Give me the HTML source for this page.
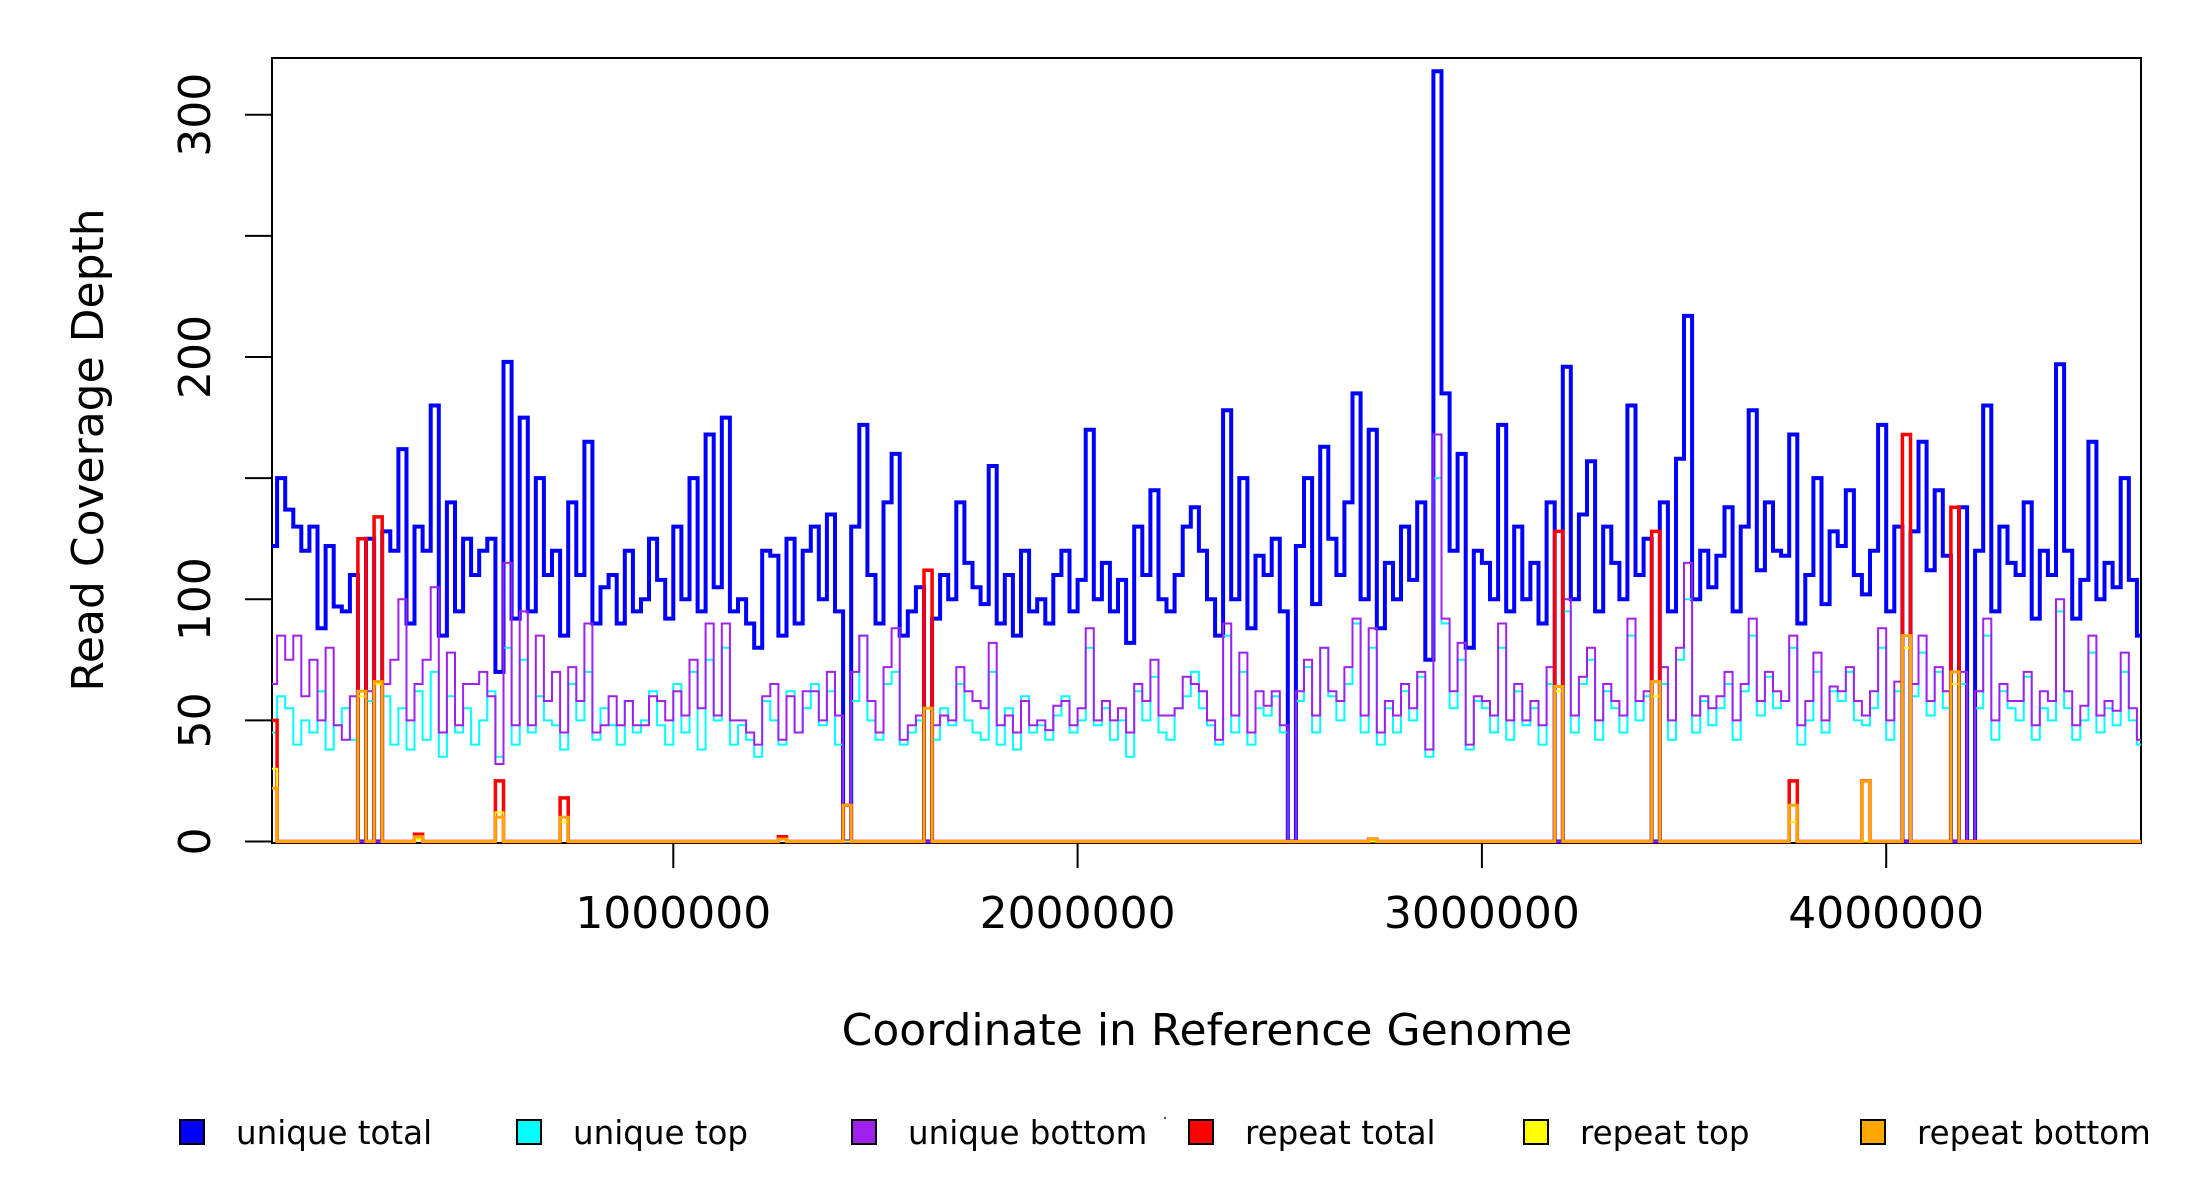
<!DOCTYPE html>
<html>
<head>
<meta charset="utf-8">
<style>
html,body{margin:0;padding:0;background:#fff;}
svg{display:block;font-family:"DejaVu Sans","Liberation Sans",sans-serif;}
</style>
</head>
<body>
<svg id="chart" width="2200" height="1200" viewBox="0 0 2200 1200" xmlns="http://www.w3.org/2000/svg">
  <rect x="0" y="0" width="2200" height="1200" fill="#fff"/>
  <defs><clipPath id="plotclip"><rect x="272" y="57" width="1869" height="788"/></clipPath></defs>
  <rect x="272" y="58" width="1869" height="785" fill="none" stroke="#000" stroke-width="2"/>
  <g id="series" clip-path="url(#plotclip)"></g>
  <g id="yaxis"></g>
  <g id="xaxis"></g>
  <text x="1207" y="1045" font-size="44" text-anchor="middle">Coordinate in Reference Genome</text>
  <text transform="translate(103,450) rotate(-90)" font-size="44" text-anchor="middle">Read Coverage Depth</text>
  <g id="legend"></g>
  <circle cx="1165" cy="1118" r="1.2" fill="#555"/>
</svg>
<script>
const binSize = 20000;
const uniqueTotal = [122,150,137,130,120,130,88,122,97,95,110,0,125,0,128,120,162,90,130,120,
180,85,140,95,125,110,120,125,70,198,92,175,95,150,110,120,85,140,110,165,
90,105,110,90,120,95,100,125,108,92,130,100,150,95,168,105,175,95,100,90,
80,120,118,85,125,90,120,130,100,135,95,0,130,172,110,90,140,160,85,95,
105,0,92,110,100,140,115,105,98,155,90,110,85,120,95,100,90,110,120,95,
108,170,100,115,95,108,82,130,110,145,100,95,110,130,138,120,100,85,178,100,
150,88,118,110,125,95,0,122,150,98,163,125,110,140,185,100,170,88,115,100,
130,108,140,75,318,185,120,160,80,120,115,100,172,95,130,100,115,90,140,0,
196,100,135,157,95,130,115,100,180,110,125,0,140,95,158,217,100,120,105,118,
138,95,130,178,112,140,120,118,168,90,110,150,98,128,122,145,110,102,120,172,
95,130,0,128,165,112,145,118,0,138,0,120,180,95,130,115,110,140,92,120,
110,197,120,92,108,165,100,115,105,150,108,85];
const uniqueTop = [45,60,55,40,50,45,62,38,48,55,42,0,58,0,60,40,55,38,62,42,
70,35,60,45,55,40,50,62,35,80,40,75,45,60,50,48,38,65,50,70,
42,55,48,40,58,45,50,62,48,40,65,45,70,38,75,50,80,40,48,42,
35,58,50,40,62,45,55,65,48,62,40,0,58,85,50,42,65,70,40,45,
50,0,42,55,48,65,50,45,42,70,40,55,38,60,45,48,42,52,60,45,
50,80,48,55,42,50,35,62,50,68,45,42,55,60,70,55,48,40,85,45,
70,40,55,52,60,45,0,58,72,45,80,60,50,65,90,45,80,40,55,45,
62,50,68,35,150,90,55,75,38,58,55,45,80,42,62,48,55,40,65,0,
95,45,65,75,42,62,55,45,85,50,60,0,65,42,75,100,45,58,48,55,
65,42,62,85,52,68,55,58,80,40,50,70,45,62,58,70,50,48,55,80,
42,62,0,60,78,52,70,55,0,65,0,55,85,42,62,55,50,68,42,55,
50,95,55,42,50,78,45,55,48,70,50,40];
const uniqueBottom = [65,85,75,85,60,75,50,80,48,42,60,0,62,0,65,75,100,50,65,75,
105,45,78,48,65,65,70,60,32,115,48,95,48,85,58,70,45,72,58,90,
45,48,60,48,58,48,48,60,58,50,62,52,75,55,90,52,90,50,50,45,
40,60,65,42,60,45,62,62,50,70,52,0,70,85,58,45,72,88,42,48,
52,0,48,52,50,72,62,58,55,82,48,52,45,58,48,50,46,56,58,48,
55,88,50,58,50,55,45,65,58,75,52,52,55,68,65,62,50,42,90,52,
78,45,62,56,62,48,0,62,75,52,80,62,58,72,92,52,88,45,58,52,
65,55,70,38,168,92,62,82,40,60,58,52,90,50,65,50,58,48,72,0,
100,52,68,80,50,65,58,52,92,58,62,0,72,50,80,115,52,60,55,60,
70,50,65,92,58,70,62,58,85,48,58,78,50,64,62,72,58,52,62,88,
50,66,0,65,85,58,72,62,0,70,0,62,92,50,65,58,58,70,48,62,
58,100,62,48,56,85,52,58,54,78,55,42];
const repeatBins   = [0, 11, 13, 18, 28, 36, 63, 71, 81, 136, 159, 171, 188, 197, 202, 208];
const repeatTotal  = [50,125,134, 3, 25, 18,  2, 15,112,  1, 128, 128, 25, 25, 168, 138];
const repeatTop    = [30, 60, 65, 1, 12,  8,  1,  0, 55,  0,  62,  60,  8,  0,  80,  65];
const repeatBottom = [22, 62, 66, 2, 10, 10,  1, 15, 55,  1,  64,  66, 15, 25,  85,  70];
const yTicks = [0,50,100,150,200,250,300];
const yTickLabels = ["0","50","100","","200","","300"];
const xTicks = [1000000,2000000,3000000,4000000];
const xTickLabels = ["1000000","2000000","3000000","4000000"];
const legendLabels = ["unique total","unique top","unique bottom","repeat total","repeat top","repeat bottom"];
const legendColors = ["#0000ff","#00ffff","#a020f0","#ff0000","#ffff00","#ffa500"];

const NS = "http://www.w3.org/2000/svg";
function xScale(c){ return 269 + c * 404.3e-6; }
function yScale(v){ return 841.5 - v * (726.7/300); }
function mk(tag, attrs, parent){ const e=document.createElementNS(NS,tag); for(const k in attrs) e.setAttribute(k,attrs[k]); parent.appendChild(e); return e; }

const series = document.getElementById('series');
function stepPath(vals){
  let d = "M"+xScale(0).toFixed(1)+","+yScale(vals[0]).toFixed(1);
  for(let i=1;i<vals.length;i++){
    d += "H"+xScale(i*binSize).toFixed(1)+"V"+yScale(vals[i]).toFixed(1);
  }
  d += "H"+xScale(vals.length*binSize).toFixed(1);
  return d;
}
function drawStep(vals, color, w, name){
  const p = mk('path', {d: stepPath(vals), fill:'none', stroke:color, 'stroke-width':w, 'stroke-linejoin':'miter'}, series);
  
  
}
function expand(vals){
  const arr = new Array(uniqueTotal.length).fill(0);
  repeatBins.forEach((b,i)=>{ arr[b] = vals[i]; });
  return arr;
}
drawStep(uniqueTotal, '#0000ff', 4, 'unique-total-line');
drawStep(uniqueTop, '#00ffff', 2, 'unique-top-line');
drawStep(uniqueBottom, '#a020f0', 2, 'unique-bottom-line');
drawStep(expand(repeatTotal), '#ff0000', 3.5, 'repeat-total-line');
drawStep(expand(repeatTop), '#ffff00', 2, 'repeat-top-line');
drawStep(expand(repeatBottom), '#ffa500', 3, 'repeat-bottom-line');

const yaxis = document.getElementById('yaxis');
yTicks.forEach((v,i)=>{
  const y = yScale(v);
  const t = mk('line',{x1:245,x2:272,y1:y,y2:y,stroke:'#000','stroke-width':2},yaxis);
  
  
  if(yTickLabels[i]){
    const tx = mk('text',{transform:'translate(210,'+y+') rotate(-90)','font-size':44,'text-anchor':'middle'},yaxis);
    tx.textContent = yTickLabels[i];
    
    
  }
});
const xaxis = document.getElementById('xaxis');
xTicks.forEach((v,i)=>{
  const x = xScale(v);
  const t = mk('line',{x1:x,x2:x,y1:843,y2:868,stroke:'#000','stroke-width':2},xaxis);
  
  
  const tx = mk('text',{x:x,y:928,'font-size':44,'text-anchor':'middle'},xaxis);
  tx.textContent = xTickLabels[i];
  
  
});
const legend = document.getElementById('legend');
const legendX = [192,529,864,1201,1536,1873];
legendLabels.forEach((lab,i)=>{
  const g = mk('g',{},legend);
  
  
  const r = mk('rect',{x:legendX[i]-12,y:1120,width:24,height:24,fill:legendColors[i],stroke:'#000','stroke-width':2},g);
  
  
  const t = mk('text',{x:legendX[i]+44,y:1144,'font-size':32.5},g);
  t.textContent = lab;
  
  
});
</script>
</body>
</html>
